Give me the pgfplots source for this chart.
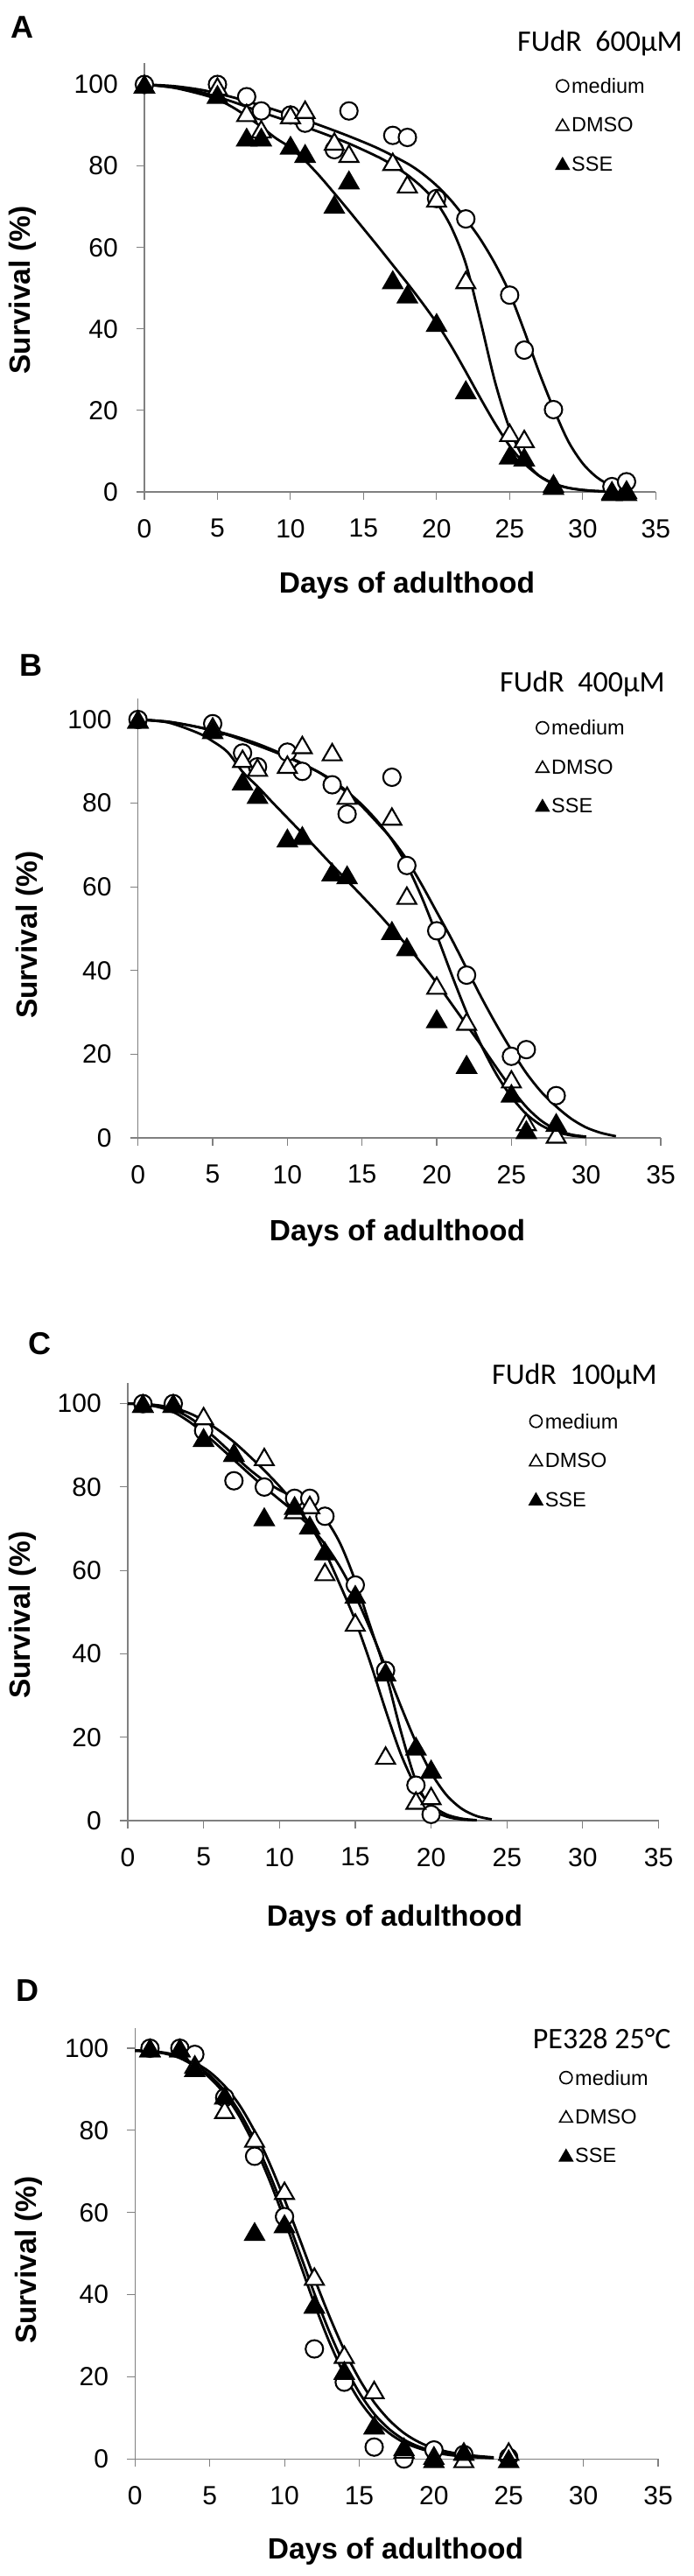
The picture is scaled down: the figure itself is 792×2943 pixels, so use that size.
\documentclass[border=0pt]{standalone}
\usepackage{fontspec}
\setmainfont{Liberation Sans}
\newfontfamily\calibri{Carlito}
\usepackage{pgfplots}
\pgfplotsset{compat=1.18}
\definecolor{axgray}{RGB}{128,128,128}
\pgfplotsset{
  panel/.style={
    axis lines=left, axis line style={-, draw=axgray, line width=1.1pt},
    xmin=0, xmax=35, ymin=0, enlargelimits=false,
    xtick={0,5,...,35}, ytick={0,20,...,100},
    tick align=outside, major tick length=9pt,
    tick style={draw=axgray, line width=1.1pt},
    ticklabel style={font=\fontsize{30}{30}\selectfont},
    yticklabel style={anchor=east, inner sep=0pt, xshift=-21pt},
    xticklabel style={anchor=north, inner sep=0pt, yshift=-22pt},
    /pgf/number format/assume math mode=true,
    clip=false,
    legend cell align=left,
    legend style={draw=none, fill=none, inner sep=0pt, outer sep=0pt,
      row sep=27.6pt, column sep=3pt, anchor=west,
      font=\fontsize{23.5}{23.5}\selectfont,
      nodes={inner sep=0pt, text height=16.8pt, text depth=0pt}},
  },
  fitc/.style={no marks, black, line width=2.8pt, smooth, forget plot},
  med/.style={only marks, mark=*, mark size=10pt,
    mark options={fill=white, draw=black, line width=2.1pt},
    legend image code/.code={\draw[only marks, mark=*, mark size=7pt, mark options={fill=white, draw=black, line width=1.6pt}] plot coordinates {(0pt,0pt)};}},
  dmso/.style={only marks, mark=triangle*, mark size=12.5pt,
    mark options={fill=white, draw=black, line width=2.1pt, yshift=-3.1pt},
    legend image code/.code={\draw[only marks, mark=triangle*, mark size=8.5pt, mark options={fill=white, draw=black, line width=1.6pt, yshift=-2.1pt}] plot coordinates {(0pt,0pt)};}},
  sse/.style={only marks, mark=triangle*, mark size=12.5pt,
    mark options={fill=black, draw=black, line width=2.1pt, yshift=-3.1pt},
    legend image code/.code={\draw[only marks, mark=triangle*, mark size=8.5pt, mark options={fill=black, draw=black, line width=1.6pt, yshift=-2.1pt}] plot coordinates {(0pt,0pt)};}},
}
\begin{document}
\begin{tikzpicture}
\path[use as bounding box] (0pt,0pt) rectangle (792pt,-2943pt);

% ---------------- Panel A ----------------
\begin{axis}[panel, x=16.694pt, y=4.655pt, ymax=105.3,
  at={(165pt,-562pt)}, anchor=origin,
  legend style={at={(axis cs:28.18,90.1)}}]
\addplot[fitc] coordinates {(0,100)(2,99.6)(4,98.6)(6,96.9)(8,94.8)(10,92.5)(12,90)(14,87.3)(16,84.3)(18,80.6)(19,78.2)(20,75.2)(21,71.5)(22,67)(23,62)(24,56)(25,48.8)(26,39.5)(27,29.5)(28,20.5)(29,12.5)(30,7)(31,3.5)(32,1.5)(33,0.6)};
\addplot[fitc] coordinates {(0,100)(2,99.3)(4,98)(6,95.8)(8,93.2)(10,90.8)(12,88.3)(14,85.5)(16,82.2)(17,80.2)(18,77.8)(19,74.8)(20,71)(21,65)(22,56)(23,42)(24,27)(25,15.5)(26,8)(27,4)(28,2)(29,1)(30,0.5)(31,0.2)(32,0.1)(33,0)};
\addplot[fitc] coordinates {(0,100)(2,99.2)(4,97.5)(5,96.3)(6,94.5)(7,92.2)(8,89.6)(9,86.8)(10,84.5)(11,81.3)(12,77.5)(13,73.3)(14,69)(15,64.6)(16,60.2)(17,55.7)(18,51.2)(19,46.5)(20,41.5)(21,35.8)(22,29.5)(23,23)(24,16.8)(25,11.3)(26,7)(27,4)(28,2.1)(29,1)(30,0.45)(31,0.2)(32,0.08)(33,0)};
\addplot[med] coordinates {(0,100)(5,100)(7,97)(8,93.5)(10,92.5)(11,90.5)(13,84)(14,93.5)(17,87.5)(18,87)(20,72)(22,67)(25,48.3)(26,34.8)(28,20.2)(32,1.3)(33,2.5)};
\addlegendentry{medium}
\addplot[dmso] coordinates {(0,100)(5,99.5)(7,93)(8,89)(10,92.5)(11,93.8)(13,86)(14,83)(17,81)(18,75.5)(20,72)(22,52)(25,14.5)(26,13)(28,2)(32,0.3)(33,0.5)};
\addlegendentry{DMSO}
\addplot[sse] coordinates {(0,100)(5,97.5)(7,87)(8,87)(10,85)(11,83)(13,70.5)(14,76.5)(17,52)(18,48.5)(20,41.5)(22,25)(25,9)(26,8.5)(28,1.5)(32,0)(33,0)};
\addlegendentry{SSE}
\end{axis}

% ---------------- Panel B ----------------
\begin{axis}[panel, x=17.066pt, y=4.78pt, ymax=105.1,
  at={(157.7pt,-1300pt)}, anchor=origin,
  legend style={at={(axis cs:26.65,88.72)}}]
\addplot[fitc] coordinates {(0,100)(2,99.4)(4,98.2)(6,96.5)(8,94.2)(10,91.2)(12,87.6)(13,85.2)(14,82.5)(15,79.2)(16,75.4)(17,71.4)(18,66.5)(19,60.5)(20,54)(21,47.5)(22,40.5)(23,33.5)(24,27)(25,21)(26,15.5)(27,11)(28,7.5)(29,4.6)(30,2.5)(31,1.2)(32,0.4)};
\addplot[fitc] coordinates {(0,100)(2,99.5)(4,98.2)(6,96.3)(8,93.8)(10,91)(12,87.6)(13,85.5)(14,82.8)(15,79.6)(16,75.8)(17,71.2)(18,65.2)(19,57.5)(20,48.5)(21,39)(22,30)(23,22)(24,15.2)(25,9.8)(26,5.7)(27,3)(28,1.4)(29,0.6)(30,0.2)};
\addplot[fitc] coordinates {(0,100)(2,99.3)(4,96.8)(5,94.8)(6,92.2)(7,87.5)(8,84)(9,80.2)(10,76.5)(11,72.8)(12,69)(13,65.2)(14,61.5)(15,57.8)(16,54)(17,50)(18,46)(19,41.6)(20,37)(21,32)(22,27)(23,22)(24,16.8)(25,11.8)(26,7.4)(27,4.1)(28,2)(29,0.8)(30,0.3)};
\addplot[med] coordinates {(0,100)(5,99)(7,92)(8,88.7)(10,92.2)(11,87.6)(13,84.4)(14,77.4)(17,86.2)(18,65.1)(20,49.5)(22,38.9)(25,19.5)(26,21.1)(28,10.1)};
\addlegendentry{medium}
\addplot[dmso] coordinates {(0,100)(5,98.3)(7,90.6)(8,88.5)(10,89.2)(11,93.9)(13,92.2)(14,81.8)(17,76.8)(18,57.9)(20,36.4)(22,27.8)(25,14)(26,3.8)(28,0.8)};
\addlegendentry{DMSO}
\addplot[sse] coordinates {(0,100)(5,97.5)(7,85.2)(8,82)(10,71.6)(11,72.2)(13,63.5)(14,62.8)(17,49.5)(18,45.6)(20,28.4)(22,17.5)(25,10.6)(26,1.9)(28,3.6)};
\addlegendentry{SSE}
\end{axis}

% ---------------- Panel C ----------------
\begin{axis}[panel, x=17.33pt, y=4.764pt, ymax=105,
  at={(146pt,-2080pt)}, anchor=origin,
  legend style={at={(axis cs:26.49,86.44)}}]
\addplot[fitc] coordinates {(0,100)(1,99.9)(2,99.5)(3,98.6)(4,96.8)(5,94.2)(6,91)(7,87.6)(8,84.3)(9,81.5)(10,79.3)(11,77.5)(12,75.6)(13,72.5)(14,66.5)(15,57.5)(16,46.5)(17,35.5)(18,21.5)(19,9.5)(20,3)(21,1)(22,0.3)(23,0.1)};
\addplot[fitc] coordinates {(0,100)(1,99.9)(2,99.6)(3,99)(4,97.8)(5,96)(6,93.6)(7,90.8)(8,87.5)(9,84)(10,80.2)(11,76)(12,71)(13,64.5)(14,56.5)(15,48)(16,37.8)(17,26.5)(18,16)(19,8.2)(20,3.8)(21,1.5)(22,0.5)(23,0.1)};
\addplot[fitc] coordinates {(0,100)(1,99.8)(2,99.2)(3,98)(4,95.8)(5,93)(6,89.8)(7,86.5)(8,83.2)(9,80)(10,77)(11,74)(12,70.6)(13,66.3)(14,60.8)(15,54)(16,45.8)(17,36.8)(18,27.5)(19,18.8)(20,11.5)(21,6.2)(22,2.9)(23,1.1)(24,0.3)};
\addplot[med] coordinates {(1,100)(3,100)(5,93.5)(7,81.5)(9,80)(11,77.3)(12,77.3)(13,73)(15,56.5)(17,36)(19,8.5)(20,1.5)};
\addlegendentry{medium}
\addplot[dmso] coordinates {(1,100)(3,100)(5,97)(7,88.2)(9,87.2)(11,74.5)(12,75.7)(13,59.6)(15,47.5)(17,15.6)(19,4.8)(20,5.9)};
\addlegendentry{DMSO}
\addplot[sse] coordinates {(1,100)(3,100)(5,91.8)(7,88.2)(9,72.8)(11,75.5)(12,70.8)(13,64.6)(15,54.2)(17,35.6)(19,17.8)(20,12.3)};
\addlegendentry{SSE}
\end{axis}

% ---------------- Panel D ----------------
\begin{axis}[panel, x=17.077pt, y=4.693pt, ymax=104.9,
  at={(154.3pt,-2809.3pt)}, anchor=origin,
  legend style={at={(axis cs:28.41,83.38)}}]
\addplot[fitc] coordinates {(0,99.4)(1,99.2)(2,98.7)(3,97.6)(4,95.6)(5,92.8)(6,88.8)(7,83.3)(8,76.2)(9,67.8)(10,58.2)(11,48)(12,37.8)(13,28.5)(14,20.6)(15,14.3)(16,9.6)(17,6.3)(18,4)(19,2.6)(20,1.6)(21,1)(22,0.6)(23,0.4)(24,0.2)};
\addplot[fitc] coordinates {(0,99.5)(1,99.3)(2,98.9)(3,98.1)(4,96.5)(5,94.2)(6,90.8)(7,86.1)(8,79.8)(9,72)(10,63.2)(11,53.7)(12,44)(13,34.8)(14,26.5)(15,19.5)(16,13.8)(17,9.5)(18,6.3)(19,4.1)(20,2.6)(21,1.7)(22,1.1)(23,0.7)(24,0.4)};
\addplot[fitc] coordinates {(0,99.4)(1,99.2)(2,98.8)(3,97.8)(4,96)(5,93.4)(6,89.6)(7,84.4)(8,77.6)(9,69.4)(10,60.2)(11,50.3)(12,40.3)(13,31)(14,22.9)(15,16.2)(16,11)(17,7.3)(18,4.7)(19,3)(20,1.9)(21,1.2)(22,0.7)(23,0.45)(24,0.3)};
\addplot[med] coordinates {(1,100)(3,100)(4,98.5)(6,88)(8,73.7)(10,59)(12,26.8)(14,18.7)(16,2.9)(18,0)(20,2.2)(22,1.1)(25,0.4)};
\addlegendentry{medium}
\addplot[dmso] coordinates {(1,100)(3,100)(4,96)(6,85)(8,78)(10,65.3)(12,44.4)(14,25.4)(16,16.8)(18,2.3)(20,0.8)(22,0)(25,1.8)};
\addlegendentry{DMSO}
\addplot[sse] coordinates {(1,100)(3,100)(4,95.2)(6,88.5)(8,55.3)(10,57.2)(12,37.6)(14,21.5)(16,8.2)(18,2.9)(20,0)(22,1.8)(25,0)};
\addlegendentry{SSE}
\end{axis}

% ---------------- Text ----------------
\tikzset{plabel/.style={font=\fontsize{36}{36}\selectfont\bfseries, inner sep=0pt},
  axlab/.style={font=\fontsize{33.5}{33.5}\selectfont\bfseries, inner sep=0pt},
  ttl/.style={font=\fontsize{34}{34}\selectfont\calibri, inner sep=0pt, anchor=base east}}
\node[plabel] at (25pt,-30.7pt) {A};
\node[plabel] at (35pt,-760pt) {B};
\node[plabel] at (45.5pt,-1535pt) {C};
\node[plabel] at (31pt,-2274pt) {D};
\node[ttl] at (780pt,-59pt) {FUdR\ \ 600µM};
\node[ttl] at (760pt,-790.6pt) {FUdR\ \ 400µM};
\node[ttl] at (751pt,-1581.4pt) {FUdR\ \ 100µM};
\node[ttl] at (766.7pt,-2340pt) {PE328 25°C};
\node[axlab, anchor=base] at (465pt,-677.5pt) {Days of adulthood};
\node[axlab, anchor=base] at (454pt,-1417pt) {Days of adulthood};
\node[axlab, anchor=base] at (451pt,-2200pt) {Days of adulthood};
\node[axlab, anchor=base] at (452pt,-2923pt) {Days of adulthood};
\node[axlab, rotate=90] at (26pt,-331.6pt) {Survival (\%)};
\node[axlab, rotate=90] at (34pt,-1068pt) {Survival (\%)};
\node[axlab, rotate=90] at (26pt,-1845pt) {Survival (\%)};
\node[axlab, rotate=90] at (33pt,-2582pt) {Survival (\%)};
\end{tikzpicture}
\end{document}
